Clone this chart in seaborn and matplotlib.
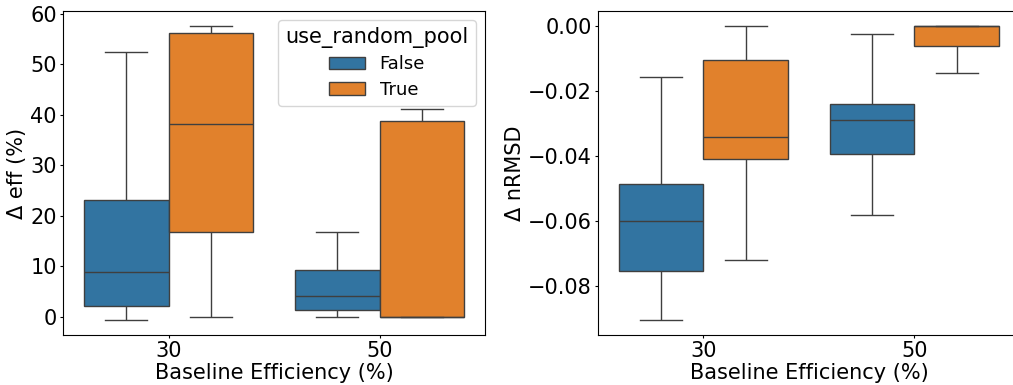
import pandas as pd
import matplotlib
matplotlib.use('Agg')
import matplotlib.pyplot as plt
import seaborn as sns

# 박스 통계값 (min, q1, median, q3, max) - 그림에서 읽은 값
baselines = [30, 50]
pool_flags = [False, True]

eff_30_false = [-0.65, 2.2, 8.8, 23.1, 52.4]
eff_30_true = [0.0, 16.8, 38.1, 56.2, 57.6]
eff_50_false = [0.0, 1.3, 4.1, 9.2, 16.8]
eff_50_true = [0.0, 0.0, 0.0, 38.8, 41.1]

rmsd_30_false = [-0.0906, -0.0753, -0.0602, -0.0486, -0.0157]
rmsd_30_true = [-0.0721, -0.0410, -0.0342, -0.0105, 0.0]
rmsd_50_false = [-0.0581, -0.0395, -0.0289, -0.0242, -0.0027]
rmsd_50_true = [-0.0147, -0.0061, 0.0, 0.0, 0.0]

eff = {(30, False): eff_30_false, (30, True): eff_30_true,
       (50, False): eff_50_false, (50, True): eff_50_true}
rmsd = {(30, False): rmsd_30_false, (30, True): rmsd_30_true,
        (50, False): rmsd_50_false, (50, True): rmsd_50_true}

rows = []
for b in baselines:
    for p in pool_flags:
        for e, r in zip(eff[(b, p)], rmsd[(b, p)]):
            rows.append({'baseline': b, 'use_random_pool': p, 'd_eff': e, 'd_nrmsd': r})
df = pd.DataFrame(rows)

fig = plt.figure(figsize=(10.13, 3.85), dpi=100)
ax1 = fig.add_axes([0.0622, 0.1299, 0.4166, 0.8416])
ax2 = fig.add_axes([0.5903, 0.1299, 0.4166, 0.8416])

sns.boxplot(data=df, x='baseline', y='d_eff', hue='use_random_pool', whis=(0, 100), ax=ax1)
sns.boxplot(data=df, x='baseline', y='d_nrmsd', hue='use_random_pool', whis=(0, 100), ax=ax2, legend=False)

ax1.set_xlabel('Baseline Efficiency (%)', fontsize=15, labelpad=1)
ax1.set_ylabel('Δ eff (%)', fontsize=15, labelpad=2)
ax2.set_xlabel('Baseline Efficiency (%)', fontsize=15, labelpad=1)
ax2.set_ylabel('Δ nRMSD', fontsize=15, labelpad=2)
for ax in (ax1, ax2):
    ax.tick_params(labelsize=15, length=2.5, pad=2)

sns.move_legend(ax1, 'upper right', title='use_random_pool', fontsize=13,
                title_fontsize=15, labelspacing=0.4, borderaxespad=0.5)

fig.savefig('out.png', dpi=100)
